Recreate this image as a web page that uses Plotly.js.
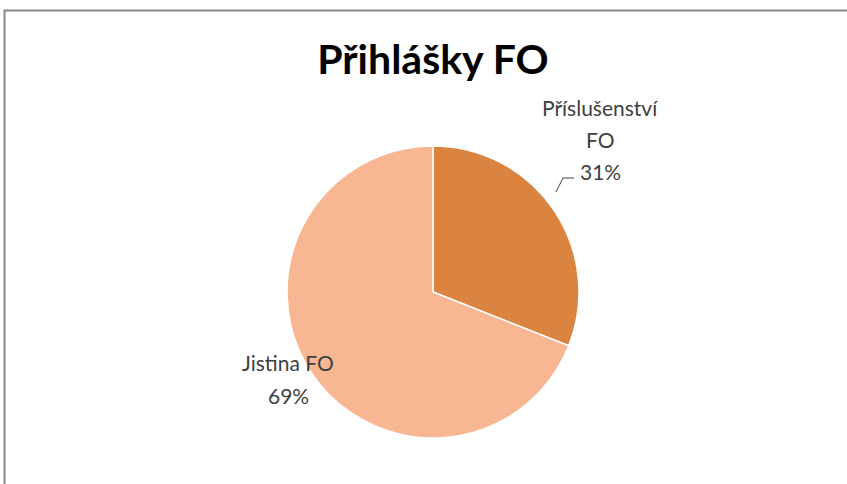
<!DOCTYPE html>
<html>
<head>
<meta charset="utf-8">
<script src="https://cdn.plot.ly/plotly-3.0.1.min.js"></script>
<style>
html,body{margin:0;padding:0;background:#fff;}
#chart{width:847px;height:484px;}
</style>
</head>
<body>
<div id="chart"></div>
<script>
const categories = ["Příslušenství FO", "Jistina FO"];
const labelLines = [["Příslušenství", "FO"], ["Jistina FO"]];
const values = [31, 69];
const colors = ["#DA843F", "#F8B692"];

const W = 847, H = 484;
const total = values.reduce((a, b) => a + b, 0);
const pct = values.map(v => Math.round(v / total * 100) + "%");

const trace = {
  type: "pie",
  labels: categories,
  values: values,
  sort: false,
  direction: "clockwise",
  rotation: 0,
  textinfo: "none",
  hoverinfo: "label+percent",
  marker: { colors: colors, line: { color: "#ffffff", width: 1.5 } },
  domain: { x: [287 / W, 579 / W], y: [(H - 438) / H, (H - 146) / H] },
  showlegend: false
};

// center x and y of the last line (percent) for each label block
const labelPos = [
  { x: 600, y: 172 },
  { x: 288, y: 395 }
];
const lineGap = 32.5;

const annotations = [];
categories.forEach((c, i) => {
  const lines = labelLines[i].concat([pct[i]]);
  const n = lines.length;
  lines.forEach((t, k) => {
    const yy = labelPos[i].y - (n - 1 - k) * lineGap;
    annotations.push({
      xref: "paper", yref: "paper",
      x: labelPos[i].x / W, y: 1 - yy / H,
      xanchor: "center", yanchor: "middle",
      text: t,
      showarrow: false,
      font: { family: "Lato, 'Open Sans', sans-serif", size: 21, color: "#404040" }
    });
  });
});

const layout = {
  width: W, height: H,
  margin: { l: 0, r: 0, t: 0, b: 0 },
  paper_bgcolor: "#ffffff",
  title: {
    text: "<b>Přihlášky FO</b>",
    x: 433 / W, xanchor: "center",
    y: 1 - 60 / H, yanchor: "middle",
    font: { family: "Lato, 'Open Sans', sans-serif", size: 41, color: "#000000" }
  },
  annotations: annotations,
  shapes: [
    { type: "rect", xref: "paper", yref: "paper",
      x0: 4.5 / W, x1: 1.02, y0: -0.02, y1: 1 - 10.5 / H,
      line: { color: "#888888", width: 2 } },
    { type: "path", xref: "paper", yref: "paper",
      path: "M " + (556 / W) + "," + (1 - 192 / H) + " L " + (563 / W) + "," + (1 - 178 / H) + " L " + (574 / W) + "," + (1 - 178 / H),
      line: { color: "#404040", width: 1 } }
  ]
};

Plotly.newPlot("chart", [trace], layout, { displayModeBar: false, staticPlot: true });
</script>
</body>
</html>
